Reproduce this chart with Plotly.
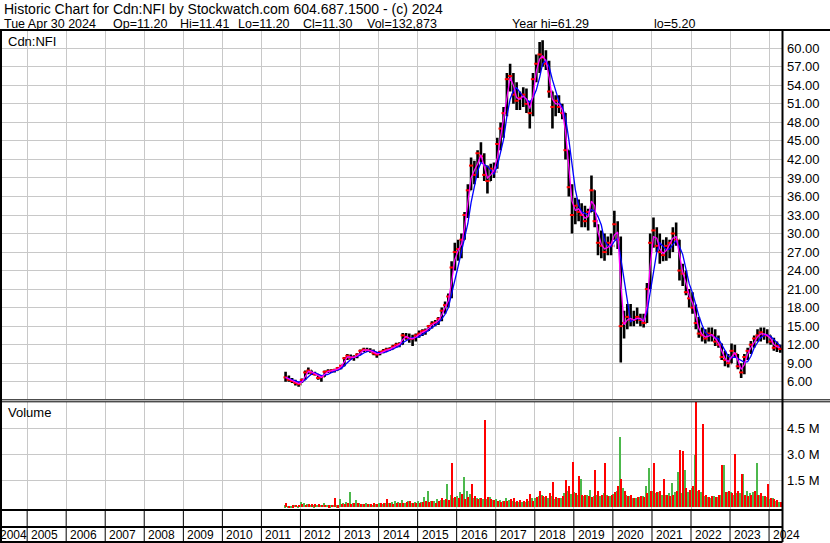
import pandas as pd
import plotly.graph_objects as go

# monthly bars, Aug 2011 .. Apr 2024
months = pd.date_range("2011-08-01", "2024-04-01", freq="MS") + pd.Timedelta(days=14)

high = [
    7.6, 7.0, 6.6, 6.3, 6.0,
    6.5, 7.8, 8.3, 7.8, 7.6, 7.2, 7.0, 7.8, 8.0, 8.0, 8.1, 8.4,
    8.7, 10.0, 10.5, 10.4, 10.3, 10.6, 11.2, 11.5, 11.5, 11.4, 11.2, 10.8,
    11.0, 11.3, 11.5, 11.6, 12.0, 12.3, 12.4, 13.9, 13.9, 13.8, 13.6, 13.8,
    14.3, 14.5, 14.6, 15.2, 15.8, 16.0, 16.5, 18.0, 19.0, 20.3, 25.5, 28.5,
    29.0, 30.0, 33.5, 38.0, 42.3, 41.8, 43.5, 44.8, 43.0, 41.0, 41.3, 41.5,
    45.5, 48.0, 50.5, 56.0, 57.5, 56.0, 54.5, 53.0, 53.7, 53.5, 51.5, 56.0,
    59.0, 61.0, 61.29, 59.7, 58.0, 53.0, 52.4, 52.4, 51.0, 49.5, 43.5, 38.0,
    35.8, 35.5, 34.9, 34.5, 34.0, 39.4, 37.0, 31.5, 30.5, 30.0, 29.5, 30.0,
    33.7, 32.0, 29.5, 17.5, 18.6, 18.6, 17.5, 18.0, 17.0, 17.0, 22.0, 30.0,
    32.6, 31.0, 30.0, 29.0, 29.4, 29.0, 31.0, 31.8, 29.0, 25.1, 24.0, 21.0,
    20.5, 18.5, 16.5, 14.8, 14.5, 14.8, 14.8, 14.5, 13.5, 12.2, 11.0, 10.5,
    12.2, 12.0, 10.5, 9.0, 10.5, 11.5, 12.6, 13.5, 14.5, 14.8, 14.8, 14.5,
    13.5, 13.1, 12.5, 12.0,
]
low = [
    6.0, 6.0, 5.8, 5.4, 5.2,
    5.8, 6.3, 7.2, 7.1, 7.0, 6.3, 6.0, 6.8, 7.4, 7.4, 7.5, 7.8,
    8.0, 8.5, 9.5, 9.6, 9.4, 9.8, 10.4, 10.8, 10.8, 10.7, 10.3, 9.9,
    10.3, 10.6, 10.8, 11.0, 11.2, 11.5, 11.6, 12.0, 12.8, 12.3, 11.8, 12.5,
    13.1, 13.4, 13.6, 14.2, 14.6, 15.0, 15.2, 15.8, 17.0, 18.0, 19.5, 24.0,
    25.6, 26.0, 29.0, 32.5, 37.0, 38.0, 39.0, 41.5, 38.5, 36.5, 38.5, 39.0,
    40.5, 43.5, 45.5, 49.0, 53.0, 51.0, 50.0, 50.0, 50.5, 49.5, 47.0, 49.0,
    54.5, 56.0, 57.0, 56.5, 52.0, 47.0, 49.0, 49.5, 48.5, 42.0, 36.0, 30.0,
    31.5, 32.0, 31.0, 31.0, 30.5, 33.5, 31.0, 26.5, 26.0, 25.6, 26.5, 26.5,
    29.0, 27.5, 9.1, 13.0, 14.5, 15.0, 15.0, 15.4, 15.0, 14.8, 15.5, 21.0,
    27.7, 27.0, 25.1, 25.5, 25.6, 26.0, 27.0, 28.0, 22.4, 21.5, 20.0, 18.0,
    17.0, 14.5, 13.1, 12.5, 12.2, 12.5, 12.5, 11.8, 11.5, 9.5, 8.5, 8.3,
    9.0, 10.0, 8.0, 6.6, 7.2, 9.5, 10.5, 11.5, 12.5, 12.5, 12.8, 12.2,
    12.0, 11.0, 10.8, 10.7,
]
close = [
    6.7, 6.3, 6.1, 5.8, 5.6,
    6.3, 7.5, 7.8, 7.4, 7.2, 6.6, 6.8, 7.6, 7.7, 7.8, 7.9, 8.2,
    8.6, 9.8, 10.2, 9.8, 10.0, 10.4, 11.0, 11.2, 11.1, 11.0, 10.6, 10.4,
    10.8, 11.0, 11.2, 11.3, 11.7, 12.0, 12.1, 13.5, 13.2, 12.9, 13.0, 13.5,
    13.8, 14.2, 14.3, 15.0, 15.4, 15.6, 16.2, 17.5, 18.4, 19.8, 24.5, 27.0,
    27.5, 29.0, 33.0, 37.0, 41.0, 39.5, 43.0, 42.5, 39.5, 38.5, 40.5, 40.0,
    44.5, 47.0, 49.5, 55.0, 55.5, 52.5, 51.5, 52.0, 52.5, 51.0, 49.5, 55.0,
    57.5, 59.0, 58.5, 57.5, 53.0, 50.5, 51.5, 50.5, 49.5, 43.5, 37.5, 33.0,
    34.5, 33.5, 33.0, 32.0, 33.5, 37.0, 32.0, 28.5, 28.0, 27.0, 28.5, 28.0,
    31.5, 29.0, 15.0, 15.5, 16.5, 16.0, 16.0, 16.5, 16.0, 15.5, 21.0, 28.5,
    30.5, 28.0, 27.0, 26.5, 28.0, 28.5, 30.0, 29.0, 24.0, 23.5, 20.5, 19.5,
    18.0, 15.5, 13.8, 13.5, 13.0, 13.8, 13.5, 12.5, 12.0, 10.0, 9.5, 9.0,
    11.0, 10.5, 8.5, 7.5, 10.0, 11.0, 12.0, 13.0, 13.5, 14.0, 13.5, 13.5,
    12.5, 11.5, 11.8, 11.30,
]

# volume in millions: biggest up-day and down-day per month
vol_up = [
    0.10, 0.06, 0.08, 0.12, 0.08,
    0.30, 0.22, 0.18, 0.12, 0.10, 0.12, 0.14, 0.25, 0.12, 0.10, 0.14, 0.10,
    0.45, 0.26, 0.30, 0.87, 0.22, 0.42, 0.22, 0.18, 0.24, 0.18, 0.15, 0.20,
    0.22, 0.20, 0.26, 0.24, 0.28, 0.34, 0.30, 0.40, 0.26, 0.34, 0.26, 0.32,
    0.34, 0.30, 0.60, 0.95, 0.38, 0.34, 0.46, 0.42, 0.40, 1.30, 0.70, 0.55,
    0.65, 0.85, 1.75, 0.90, 0.75, 0.55, 0.50, 0.52, 0.45, 0.48, 0.60, 0.42,
    0.48, 0.40, 0.36, 0.52, 0.40, 0.36, 0.32, 0.28, 0.32, 0.28, 0.36, 0.52,
    0.50, 0.66, 0.72, 0.58, 0.50, 0.66, 0.48, 0.55, 0.50, 0.80, 0.90, 0.75,
    0.85, 0.72, 1.60, 0.62, 0.72, 1.00, 0.62, 0.72, 0.66, 0.80, 0.72, 0.62,
    0.75, 0.90, 4.00, 1.10, 0.72, 0.66, 0.55, 0.50, 0.58, 0.66, 1.20, 2.25,
    0.95, 0.80, 0.85, 0.72, 0.72, 0.80, 1.40, 0.85, 2.00, 0.80, 2.10, 0.85,
    1.10, 3.00, 0.95, 0.85, 0.66, 0.58, 0.50, 0.66, 0.58, 0.72, 2.40, 0.85,
    0.85, 0.72, 0.80, 0.80, 1.90, 0.95, 0.80, 0.85, 2.50, 0.72, 0.66, 0.58,
    0.45, 0.52, 0.38, 0.32,
]
vol_down = [
    0.22, 0.08, 0.10, 0.15, 0.12,
    0.16, 0.12, 0.18, 0.20, 0.16, 0.18, 0.12, 0.12, 0.10, 0.14, 0.50, 0.10,
    0.20, 0.16, 0.22, 0.20, 0.26, 0.22, 0.16, 0.20, 0.16, 0.20, 0.24, 0.20,
    0.22, 0.26, 0.45, 0.22, 0.20, 0.22, 0.26, 0.22, 0.30, 0.34, 0.26, 0.22,
    0.26, 0.30, 0.34, 0.30, 0.34, 0.26, 0.38, 0.52, 0.46, 0.42, 2.50, 0.60,
    0.52, 0.75, 0.46, 0.60, 1.30, 0.66, 0.46, 0.52, 5.00, 0.60, 0.46, 0.42,
    0.34, 0.30, 0.38, 0.34, 0.46, 0.50, 0.38, 0.42, 0.34, 0.46, 0.75, 0.34,
    0.60, 0.95, 0.66, 0.66, 0.80, 1.45, 0.60, 0.52, 0.66, 1.55, 1.20, 2.60,
    0.80, 1.80, 0.72, 0.72, 0.66, 0.60, 2.10, 0.95, 0.72, 2.55, 0.66, 0.72,
    0.85, 1.20, 1.60, 0.95, 0.66, 0.72, 0.52, 0.60, 0.66, 0.60, 0.80, 0.95,
    2.50, 0.85, 0.95, 1.60, 0.72, 0.66, 0.72, 0.95, 3.25, 3.20, 1.10, 1.00,
    1.20, 6.50, 1.00, 4.75, 0.72, 0.60, 0.66, 0.60, 0.72, 2.40, 0.85, 0.95,
    0.80, 3.05, 0.95, 1.90, 0.72, 0.66, 0.72, 0.95, 0.72, 0.80, 0.66, 1.30,
    0.52, 0.45, 0.42, 0.30,
]

years = list(range(2005, 2025))
price_ticks = list(range(6, 61, 3))
vol_ticks = [1.5, 3.0, 4.5]
vol_labels = ["1.5 M", "3.0 M", "4.5 M"]

header1 = "Historic Chart for Cdn:NFI by Stockwatch.com 604.687.1500 - (c) 2024"
# second header line: field text and its left edge in pixels
header2 = [("Tue Apr 30 2024", 3), ("Op=11.20", 112), ("Hi=11.41", 179),
           ("Lo=11.20", 237), ("Cl=11.30", 302), ("Vol=132,873", 366),
           ("Year hi=61.29", 511), ("lo=5.20", 653)]

W, H = 830, 543
FONT = "Liberation Sans, Arial, sans-serif"


def px(x):
    return x / W


def py(y):
    return 1 - y / H


closes = pd.Series(close, index=months)
opens = closes.shift(1).fillna(closes.iloc[0])
ma_fast = closes.rolling(2, min_periods=1).mean()
ma_slow = closes.rolling(4, min_periods=1).mean()

fig = go.Figure()

fig.add_trace(go.Ohlc(x=months, open=opens, high=high, low=low, close=close,
                      increasing=dict(line=dict(color="black", width=2.6)),
                      decreasing=dict(line=dict(color="black", width=2.6)),
                      tickwidth=0.15, xaxis="x", yaxis="y", showlegend=False))
fig.add_trace(go.Scatter(x=months, y=close, mode="markers",
                         marker=dict(symbol="line-ew", size=3, color="red",
                                     line=dict(color="red", width=2)),
                         xaxis="x", yaxis="y", showlegend=False))
fig.add_trace(go.Scatter(x=months, y=ma_slow, mode="lines",
                         line=dict(color="#0000ff", width=1.3),
                         xaxis="x", yaxis="y", showlegend=False))
fig.add_trace(go.Scatter(x=months, y=ma_fast, mode="lines",
                         line=dict(color="#ff00ff", width=1.3),
                         xaxis="x", yaxis="y", showlegend=False))

fig.add_trace(go.Bar(x=months, y=vol_up, marker=dict(color="#4cb84c", line_width=0),
                     xaxis="x2", yaxis="y2", showlegend=False))
fig.add_trace(go.Bar(x=months, y=vol_down, marker=dict(color="#ff0000", line_width=0),
                     xaxis="x2", yaxis="y2", showlegend=False))

x_range = ["2004-04-22", "2024-05-01"]
x_dom = [0, px(782)]
xcommon = dict(range=x_range, type="date", showticklabels=False, ticks="",
               showgrid=True, gridcolor="#c8c8c8", gridwidth=1,
               dtick="M12", tick0="2005-01-01", zeroline=False, showline=False,
               domain=x_dom, rangeslider=dict(visible=False))

shapes = []


def hline(y, x0, x1, w=2):
    shapes.append(dict(type="line", xref="paper", yref="paper",
                       x0=px(x0), x1=px(x1), y0=py(y), y1=py(y),
                       line=dict(color="black", width=w)))


def vline(x, y0, y1, w=2):
    shapes.append(dict(type="line", xref="paper", yref="paper",
                       x0=px(x), x1=px(x), y0=py(y0), y1=py(y1),
                       line=dict(color="black", width=w)))


hline(30, 0, W)
hline(399.8, 0, W, 1)
hline(401.8, 0, W, 1)
hline(510, 0, 782.5)
hline(527, 0, 782.5)
hline(542, 0, 782.5)
vline(1, 30, H)
vline(782.5, 30, 542)

for yr in years:
    shapes.append(dict(type="line", xref="x", yref="paper",
                       x0=f"{yr}-01-01", x1=f"{yr}-01-01", y0=py(510), y1=py(542),
                       line=dict(color="black", width=1)))

annotations = [
    dict(text=header1, x=px(3), y=py(9), font=dict(size=14)),
    dict(text="Cdn:NFI", x=px(7), y=py(41)),
    dict(text="Volume", x=px(7), y=py(413)),
    dict(text="2004", x=px(-1), y=py(535), font=dict(size=12)),
]
for text, left in header2:
    annotations.append(dict(text=text, x=px(left), y=py(23.5), font=dict(size=12.5)))
for a in annotations:
    a.update(xref="paper", yref="paper", xanchor="left", yanchor="middle",
             showarrow=False, borderpad=0)
    a.setdefault("font", dict(size=13))
    a["font"].update(family=FONT, color="black")

for yr in years:
    annotations.append(dict(text=str(yr), xref="x", yref="paper",
                            x=f"{yr}-01-01", y=py(535), xanchor="left",
                            yanchor="middle", xshift=2, showarrow=False,
                            font=dict(family=FONT, size=12, color="black")))

fig.update_layout(
    width=W, height=H,
    margin=dict(l=0, r=0, t=0, b=0),
    paper_bgcolor="white", plot_bgcolor="white",
    font=dict(family=FONT, size=13, color="black"),
    bargap=0, bargroupgap=0, barmode="group",
    xaxis=dict(xcommon, anchor="y"),
    xaxis2=dict(xcommon, anchor="y2", matches="x"),
    yaxis=dict(domain=[py(399), py(31)], range=[3.2, 62.8], side="right",
               anchor="x", tickvals=price_ticks, tickformat=".2f",
               showgrid=True, gridcolor="#c8c8c8", gridwidth=1,
               zeroline=False, showline=False, ticks="", ticklabelstandoff=4,
               tickfont=dict(family=FONT, size=13, color="black")),
    yaxis2=dict(domain=[py(509), py(402)], range=[-0.1, 6.0], side="right",
                anchor="x2", tickvals=vol_ticks, ticktext=vol_labels,
                showgrid=True, gridcolor="#c8c8c8", gridwidth=1,
                zeroline=False, showline=False, ticks="", ticklabelstandoff=4,
                tickfont=dict(family=FONT, size=13, color="black")),
    shapes=shapes,
    annotations=annotations,
    hovermode=False,
)

fig.write_html("out.html", config={"displayModeBar": False},
               post_script="document.body.style.margin='0';")
